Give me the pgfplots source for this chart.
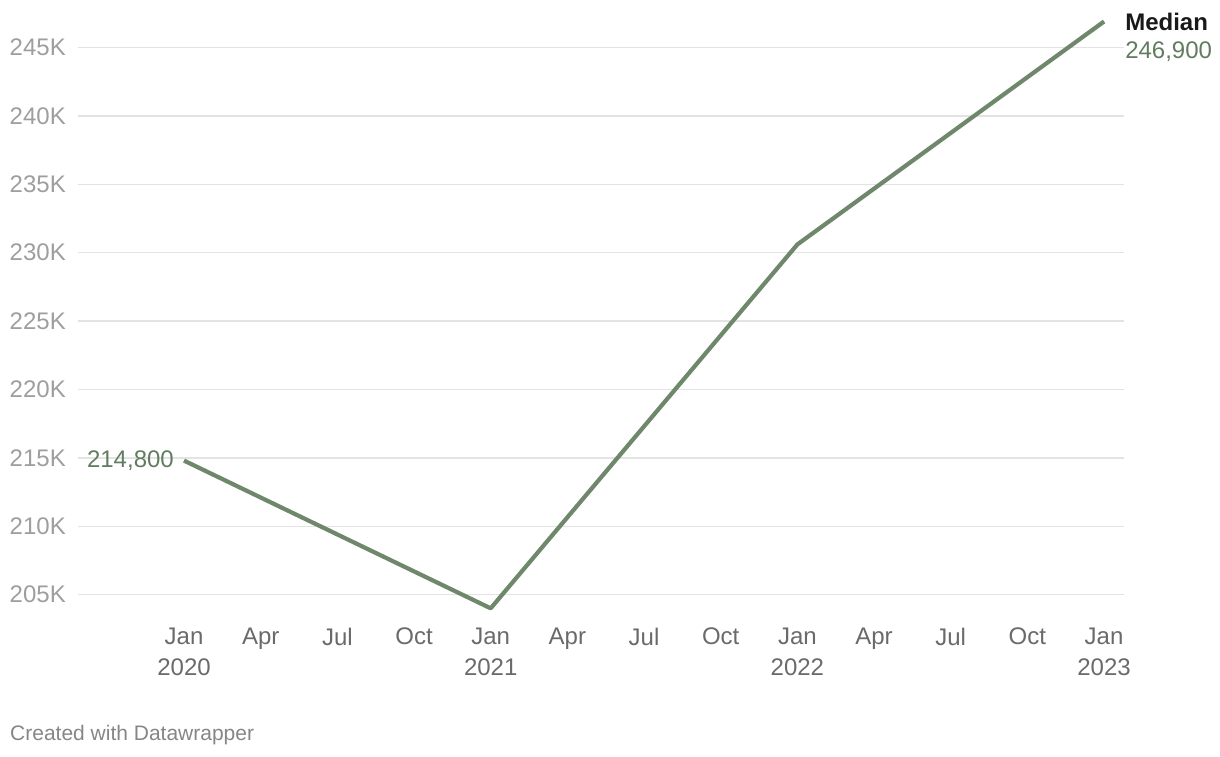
\documentclass[border=0pt]{standalone}
\usepackage{pgfplots}
\pgfplotsset{compat=1.18}
\usepackage{fontspec}
\setmainfont{Liberation Sans}
\definecolor{linegreen}{HTML}{6F886C}
\definecolor{labgreen}{HTML}{627C5F}
\definecolor{ticklab}{HTML}{9E9E9E}
\definecolor{xlab}{HTML}{6A6A6A}
\definecolor{gridc}{HTML}{E3E3E3}
\begin{document}
\begin{tikzpicture}[x=1pt,y=1pt]
\path (0,0) rectangle (1220,756);
\begin{axis}[
  at={(78pt,134pt)}, anchor=south west,
  scale only axis, width=1046pt, height=601.9pt,
  xmin=-4.148, xmax=36.78,
  ymin=203, ymax=247,
  axis line style={draw=none}, clip=false,
  ytick={205,210,215,220,225,230,235,240,245},
  yticklabels={205K,210K,215K,220K,225K,230K,235K,240K,245K},
  xtick={0,3,6,9,12,15,18,21,24,27,30,33,36},
  xticklabels={Jan\\2020,Apr,Jul,Oct,Jan\\2021,Apr,Jul,Oct,Jan\\2022,Apr,Jul,Oct,Jan\\2023},
  ymajorgrids, major grid style={gridc, line width=1.4pt},
  major tick length=0pt,
  tick style={draw=none},
  yticklabel style={anchor=east, inner sep=0pt, xshift=-12pt, font=\fontsize{24}{29}\selectfont, text=ticklab},
  xticklabel style={anchor=north, inner sep=0pt, align=center, yshift=-6pt, font=\fontsize{24}{31}\selectfont, text=xlab},
]
\addplot[linegreen, line width=4.2pt, line join=round] coordinates {
  (0,214.8) (12,204.0) (24,230.6) (36,246.9)
};
\node[anchor=east, inner sep=0pt, text=labgreen, font=\fontsize{24}{29}\selectfont] at (axis cs:0,214.8) [xshift=-10pt] {214,800};
\node[anchor=west, inner sep=0pt, font=\fontsize{24}{29}\selectfont\bfseries, text=black!90] at (axis cs:36,246.9) [xshift=21pt] {Median};
\node[anchor=base west, inner sep=0pt, text=labgreen, font=\fontsize{24}{29}\selectfont] at (axis cs:36,246.9) [xshift=21pt, yshift=-37pt] {246,900};
\end{axis}
\node[anchor=base west, inner sep=0pt, text=ticklab!85!black, font=\fontsize{21}{25}\selectfont] at (10,16) {Created with Datawrapper};
\end{tikzpicture}
\end{document}
